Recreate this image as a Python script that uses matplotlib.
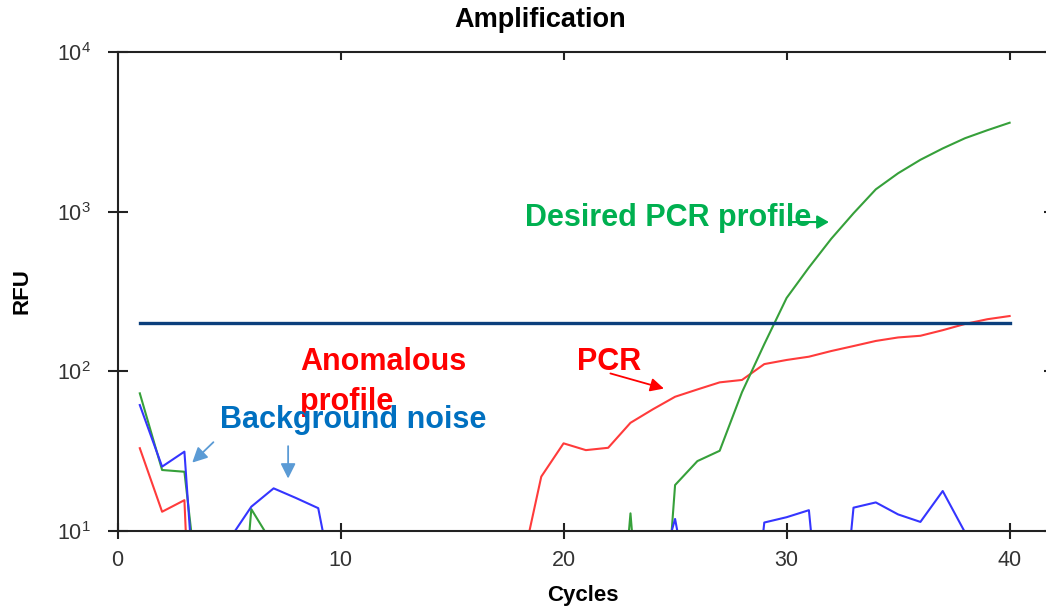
import matplotlib
matplotlib.use("Agg")
import matplotlib.pyplot as plt
import numpy as np

plt.rcParams['font.family'] = ['Liberation Sans', 'DejaVu Sans']

# --- data (RFU per cycle) ---
cycles = np.arange(1, 41)

# background noise well (blue)
rfu_blue = [61.5, 25.3, 31.4, 0.32, 8.8, 14.2, 18.5, 16.1, 13.9, 2.7,
            2.0, 2.0, 2.0, 2.0, 2.0, 2.0, 2.0, 2.0, 2.0, 2.0,
            2.0, 2.0, 2.0, 3.8, 11.9, 2.1, 1.0, 0.56, 11.3, 12.2,
            13.5, 0.5, 14.0, 15.1, 12.7, 11.4, 17.8, 9.8, 5.0, 4.0]

# desired PCR profile (green)
rfu_green = [72.8, 24.1, 23.5, 1.4, 0.3, 13.7, 8.1, 2.0, 2.0, 2.0,
             2.0, 2.0, 2.0, 2.0, 2.0, 2.0, 2.0, 2.0, 2.0, 2.0,
             2.0, 0.3, 12.9, 0.25, 19.4, 27.4, 31.8, 74, 148, 288,
             447, 676, 977, 1380, 1740, 2113, 2489, 2884, 3236, 3606]

# anomalous profile (red)
rfu_red = [33.0, 13.2, 15.6, 0.01, 1.0, 1.0, 1.0, 1.0, 1.0, 1.0,
           1.0, 1.0, 1.0, 1.0, 1.0, 1.0, 1.0, 5.0, 21.9, 35.4,
           32.1, 33.2, 47.6, 57.8, 69.3, 77.0, 85.3, 88.3, 111, 117.8,
           123.5, 134, 144, 155, 163, 167, 181, 198, 212, 222]

# threshold line
thr_cycles = [1, 40]
thr_rfu = [200, 200]

xticks = [0, 10, 20, 30, 40]
yticks = [10, 100, 1000, 10000]

# ============== FIGURE ==============
fig = plt.figure(figsize=(10.46, 6.09), dpi=100)
ax = fig.add_axes([117.5 / 1046, 1 - 531 / 609, (1052 - 117.5) / 1046, (531 - 52) / 609])

ax.plot(cycles, rfu_red, color='#ff3b3b', lw=1.5)
ax.plot(cycles, rfu_green, color='#36a03a', lw=1.5)
ax.plot(cycles, rfu_blue, color='#3535ff', lw=1.5)
ax.plot(thr_cycles, thr_rfu, color='#0b3f7c', lw=2.4)

ax.set_yscale('log')
ax.set_ylim(10, 1e4)
ax.set_xlim(0, 41.9)
ax.set_xticks(xticks)
ax.set_yticks(yticks)
ax.yaxis.set_minor_locator(matplotlib.ticker.NullLocator())

for s in ax.spines.values():
    s.set_linewidth(1.5)
    s.set_color('#222222')

ax.tick_params(axis='both', which='major', direction='inout', width=1.5,
               labelsize=15.5, labelcolor='#333333', color='#222222')
ax.tick_params(axis='x', length=11, pad=8)
ax.tick_params(axis='y', length=14, pad=12)

# inward ticks on top and right
secx = ax.secondary_xaxis('top')
secx.set_xticks(xticks)
secx.tick_params(direction='in', length=6, width=1.5, color='#222222', labeltop=False)
secx.spines['top'].set_visible(False)
secy = ax.secondary_yaxis('right')
secy.set_yticks(yticks)
secy.yaxis.set_minor_locator(matplotlib.ticker.NullLocator())
secy.tick_params(direction='in', length=6, width=1.5, color='#222222', labelright=False)
secy.spines['right'].set_visible(False)

fig.text(540 / 1046, 1 - 20 / 609, 'Amplification', ha='center', va='center',
         fontsize=19.5, fontweight='bold')
fig.text(583 / 1046, 1 - 596 / 609, 'Cycles', ha='center', va='center',
         fontsize=16, fontweight='bold')
fig.text(22 / 1046, 1 - 291 / 609, 'RFU', ha='center', va='center', rotation=90,
         fontsize=16, fontweight='bold')

# --- annotations ---
green_txt = '#00b050'
red_txt = '#ff0000'
blue_txt = '#0070c0'
arrow_blue = '#5b9bd5'

ax.text(18.27, 912, 'Desired PCR profile', color=green_txt, fontsize=22,
        fontweight='bold', ha='left', va='center')
ax.annotate('', xy=(31.9, 861), xytext=(30.2, 861),
            arrowprops=dict(arrowstyle='-|>,head_length=0.7,head_width=0.4',
                            color=green_txt, lw=1.5, shrinkA=0, shrinkB=0))

ax.text(20.6, 114, 'PCR', color=red_txt, fontsize=22, fontweight='bold',
        ha='left', va='center')
ax.annotate('', xy=(24.5, 78), xytext=(22.1, 97),
            arrowprops=dict(arrowstyle='-|>,head_length=0.8,head_width=0.4',
                            color=red_txt, lw=1.3, shrinkA=0, shrinkB=0))

ax.text(8.18, 114, 'Anomalous', color=red_txt, fontsize=22, fontweight='bold',
        ha='left', va='center')
ax.text(8.18, 64, 'profile', color=red_txt, fontsize=22, fontweight='bold',
        ha='left', va='center')

ax.text(4.6, 49.5, 'Background noise', color=blue_txt, fontsize=22,
        fontweight='bold', ha='left', va='center')
ax.annotate('', xy=(3.35, 26.8), xytext=(4.3, 36),
            arrowprops=dict(arrowstyle='-|>,head_length=0.9,head_width=0.45',
                            color=arrow_blue, lw=1.3, shrinkA=0, shrinkB=0))
ax.annotate('', xy=(7.65, 21.3), xytext=(7.65, 34),
            arrowprops=dict(arrowstyle='-|>,head_length=0.9,head_width=0.45',
                            color=arrow_blue, lw=1.3, shrinkA=0, shrinkB=0))

fig.savefig('out.png', dpi=100)
